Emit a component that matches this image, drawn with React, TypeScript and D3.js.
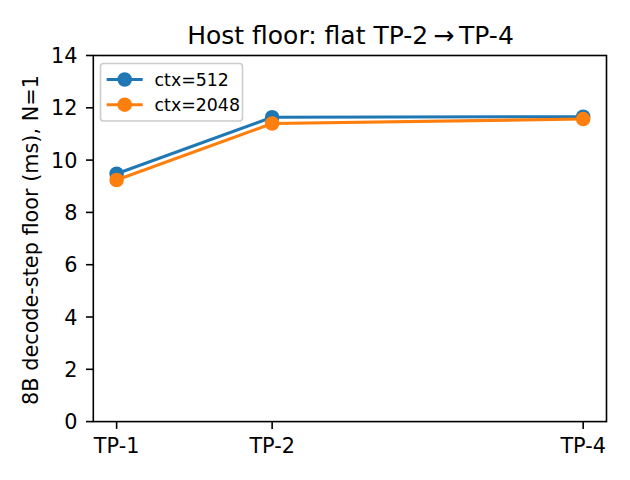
import React from "react";
import * as d3 from "d3";

const tpValues = [1, 2, 4];
const tpLabels = ["TP-1", "TP-2", "TP-4"];
const ctx512 = [9.48, 11.64, 11.66];
const ctx2048 = [9.24, 11.40, 11.57];
const seriesNames = ["ctx=512", "ctx=2048"];
const seriesColors = ["#1f77b4", "#ff7f0e"];
const yTicks = [0, 2, 4, 6, 8, 10, 12, 14];
const titleText = "Host floor: flat TP-2\u2009\u2192\u2009TP-4";
const yLabel = "8B decode-step floor (ms), N=1";

const W = 630, H = 480;
const L = 93.3, R = 606.5, T = 55.5, B = 421.6;
const FONT = "DejaVu Sans, sans-serif";

export default function App() {
  const x = d3.scaleLinear().domain([0.85, 4.15]).range([L, R]);
  const y = d3.scaleLinear().domain([0, 14]).range([B, T]);
  const series = [ctx512, ctx2048];
  const line = d3.line<number>().x((_, i) => x(tpValues[i])).y((d) => y(d));

  return (
    <svg width={W} height={H} style={{ position: "absolute", left: 0, top: 0, background: "#fff" }} fontFamily={FONT}>
      <rect x={0} y={0} width={W} height={H} fill="#fff" />
      {/* title */}
      <text x={350.5} y={44} textAnchor="middle" fontSize={25} fill="#000">{titleText}</text>
      {/* series */}
      {series.map((s, si) => (
        <g key={si}>
          <path d={line(s) || ""} fill="none" stroke={seriesColors[si]} strokeWidth={3.1} strokeLinejoin="round" strokeLinecap="square" />
          {s.map((v, i) => (
            <circle key={i} cx={x(tpValues[i])} cy={y(v)} r={6.25} fill={seriesColors[si]} stroke={seriesColors[si]} strokeWidth={2.1} />
          ))}
        </g>
      ))}
      {/* spines */}
      <rect x={L} y={T} width={R - L} height={B - T} fill="none" stroke="#000" strokeWidth={1.6} />
      {/* y ticks */}
      {yTicks.map((t) => (
        <g key={t}>
          <line x1={L - 7.3} x2={L} y1={y(t)} y2={y(t)} stroke="#000" strokeWidth={1.6} />
          <text x={77.5} y={y(t) + 7.6} textAnchor="end" fontSize={20.8} fill="#000">{t}</text>
        </g>
      ))}
      {/* x ticks */}
      {tpValues.map((v, i) => (
        <g key={v}>
          <line x1={x(v)} x2={x(v)} y1={B} y2={B + 7.3} stroke="#000" strokeWidth={1.6} />
          <text x={x(v)} y={452.7} textAnchor="middle" fontSize={20.8} fill="#000">{tpLabels[i]}</text>
        </g>
      ))}
      {/* y label */}
      <text transform={`translate(38.3, 240) rotate(-90)`} textAnchor="middle" fontSize={20.8} fill="#000">{yLabel}</text>
      {/* legend */}
      <g>
        <rect x={100.5} y={63.5} width={142} height={57.5} rx={3} ry={3} fill="#fff" fillOpacity={0.8} stroke="#cccccc" strokeWidth={1.6} />
        {seriesNames.map((n, i) => {
          const cy = 79.5 + i * 25.2;
          return (
            <g key={n}>
              <line x1={106.7} x2={142.7} y1={cy} y2={cy} stroke={seriesColors[i]} strokeWidth={3.1} />
              <circle cx={124.7} cy={cy} r={6.25} fill={seriesColors[i]} stroke={seriesColors[i]} strokeWidth={2.1} />
              <text x={154.5} y={cy + 6.3} fontSize={17.4} fill="#000">{n}</text>
            </g>
          );
        })}
      </g>
    </svg>
  );
}
